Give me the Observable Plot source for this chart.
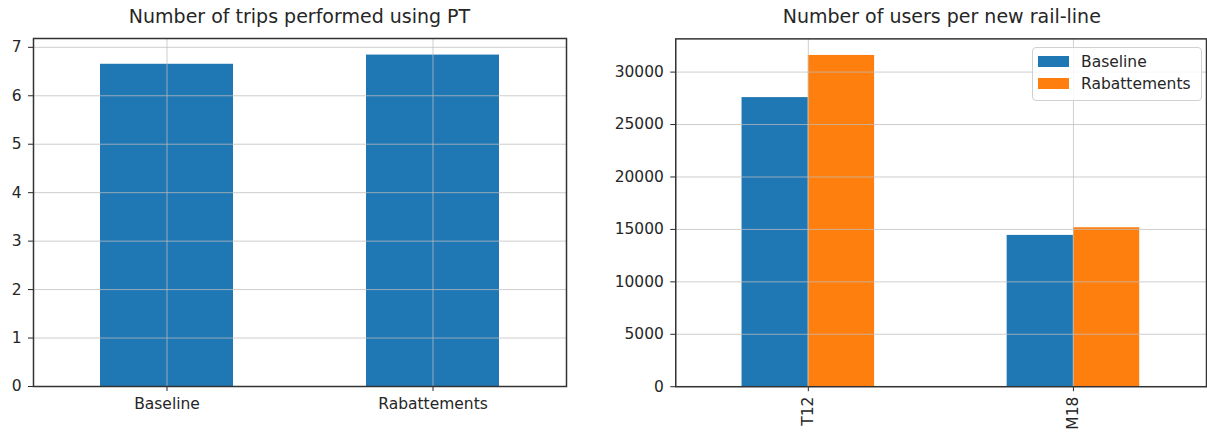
<!DOCTYPE html>
<html><head><meta charset="utf-8">
<script src="https://cdn.jsdelivr.net/npm/d3@7"></script>
<script src="https://cdn.jsdelivr.net/npm/@observablehq/plot@0.6"></script>
<style>
html,body{margin:0;padding:0;background:#fff;overflow:hidden;}
#wrap{position:relative;width:1207px;height:434px;overflow:hidden;font-family:"DejaVu Sans",sans-serif;color:#262626;}
.title{position:absolute;top:5px;font-size:19px;transform:translateX(-50%);white-space:nowrap;line-height:23px;}
.panel{position:absolute;top:0;}
.legend{position:absolute;left:1032px;top:47px;width:168px;height:52px;border:1px solid #d0d0d0;border-radius:4px;background:rgba(255,255,255,0.85);font-size:15.5px;}
.item{position:absolute;left:5px;height:20px;line-height:20px;white-space:nowrap;}
.sw{display:inline-block;width:31px;height:11px;vertical-align:middle;margin-right:12px;position:relative;top:-1px;}
</style></head>
<body><div id="wrap"></div>
<script>
// ---- data ----
const scenarios = ["Baseline", "Rabattements"];
const tripsPT = [6.65, 6.84];
const lines = ["T12", "M18"];
const usersBaseline = [27570, 14430];
const usersRabattements = [31590, 15160];
const tripTicks = [0, 1, 2, 3, 4, 5, 6, 7];
const userTicks = [0, 5000, 10000, 15000, 20000, 25000, 30000];
const colors = ["#1f77b4", "#ff7f0e"];
const titles = ["Number of trips performed using PT", "Number of users per new rail-line"];

const wrap = document.getElementById("wrap");
const font = {fontFamily: "DejaVu Sans", fontSize: "15.5px", color: "#262626", background: "transparent", overflow: "visible"};
const gridStyle = {stroke: "#bdbdbd", strokeOpacity: 0.75, strokeWidth: 1};

// ---- left chart ----
const tripsData = scenarios.map((s, i) => ({scenario: s, value: tripsPT[i]}));
const L = {w: 575, ml: 33, mr: 9, mt: 38, mb: 48};
const left = Plot.plot({
  width: L.w, height: 434, marginLeft: L.ml, marginRight: L.mr, marginTop: L.mt, marginBottom: L.mb,
  style: font,
  x: {domain: scenarios, paddingInner: 0.5, paddingOuter: 0.25, label: null, tickSize: 5, tickPadding: 6},
  y: {domain: [0, d3.max(tripsPT) * 1.05], ticks: tripTicks, label: null, tickSize: 5, tickPadding: 7},
  marks: [
    Plot.barY(tripsData, {x: "scenario", y: "value", fill: colors[0]}),
    Plot.ruleY(tripTicks, gridStyle),
    Plot.ruleX(scenarios, gridStyle),
    Plot.frame({stroke: "#333", strokeWidth: 1.5})
  ]
});
const lp = document.createElement("div"); lp.className = "panel"; lp.style.left = "0px"; lp.appendChild(left); wrap.appendChild(lp);

// ---- right chart ----
const usersData = lines.flatMap((l, i) => [
  {line: l, scenario: scenarios[0], value: usersBaseline[i]},
  {line: l, scenario: scenarios[1], value: usersRabattements[i]}
]);
const R = {x0: 600, w: 609, ml: 75.5, mr: 1, mt: 38.5, mb: 46.5};
const bw = (R.w - R.ml - R.mr) / 2 * 0.5;
const right = Plot.plot({
  width: R.w, height: 434, marginLeft: R.ml, marginRight: R.mr, marginTop: R.mt, marginBottom: R.mb,
  style: font,
  x: {domain: lines, paddingInner: 0.5, paddingOuter: 0.25, label: null, tickSize: 5, tickPadding: 5, tickRotate: -90},
  y: {domain: [0, d3.max(usersRabattements.concat(usersBaseline)) * 1.05], ticks: userTicks, label: null, tickSize: 5, tickPadding: 7, tickFormat: d => String(d)},
  marks: [
    Plot.barY(usersData.filter(d => d.scenario === scenarios[0]), {x: "line", y: "value", fill: colors[0], insetRight: bw / 2}),
    Plot.barY(usersData.filter(d => d.scenario === scenarios[1]), {x: "line", y: "value", fill: colors[1], insetLeft: bw / 2}),
    Plot.ruleY(userTicks, gridStyle),
    Plot.ruleX(lines, gridStyle),
    Plot.frame({stroke: "#333", strokeWidth: 1.5})
  ]
});
const rp = document.createElement("div"); rp.className = "panel"; rp.style.left = R.x0 + "px"; rp.appendChild(right); wrap.appendChild(rp);

// ---- titles ----
const centers = [(L.ml + (L.w - L.mr)) / 2, R.x0 + (R.ml + (R.w - R.mr)) / 2];
titles.forEach((t, i) => {
  const d = document.createElement("div"); d.className = "title"; d.textContent = t; d.style.left = centers[i] + "px"; wrap.appendChild(d);
});

// ---- legend ----
const leg = document.createElement("div"); leg.className = "legend";
scenarios.forEach((s, i) => {
  const it = document.createElement("div"); it.className = "item"; it.style.top = (4 + i * 22) + "px";
  const sw = document.createElement("span"); sw.className = "sw"; sw.style.background = colors[i];
  it.appendChild(sw); it.appendChild(document.createTextNode(s)); leg.appendChild(it);
});
wrap.appendChild(leg);
</script>
</body></html>
